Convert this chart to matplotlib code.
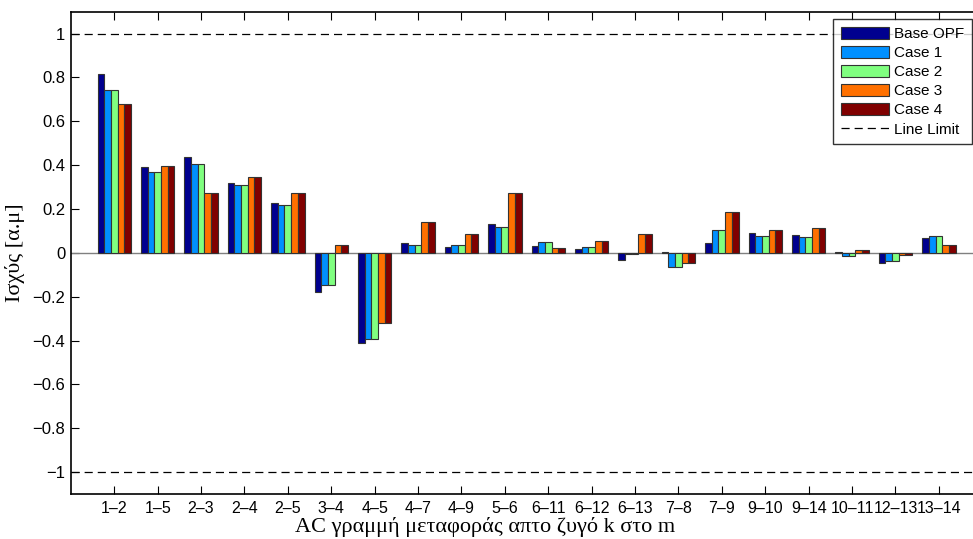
import numpy as np
import matplotlib
matplotlib.use('Agg')
import matplotlib.pyplot as plt
from matplotlib.patches import Patch
from matplotlib.lines import Line2D

plt.rcParams['font.family'] = ['Liberation Sans', 'DejaVu Sans']

lines = ['1–2', '1–5', '2–3', '2–4', '2–5', '3–4', '4–5', '4–7', '4–9', '5–6',
         '6–11', '6–12', '6–13', '7–8', '7–9', '9–10', '9–14', '10–11', '12–13', '13–14']
series = ['Base OPF', 'Case 1', 'Case 2', 'Case 3', 'Case 4']

base_opf = [0.818, 0.392, 0.436, 0.319, 0.227, -0.177, -0.410, 0.046, 0.026, 0.132,
            0.032, 0.017, -0.032, 0.003, 0.047, 0.091, 0.081, 0.002, -0.046, 0.068]
case1 = [0.745, 0.367, 0.403, 0.309, 0.218, -0.147, -0.395, 0.038, 0.035, 0.117,
         0.050, 0.025, -0.005, -0.064, 0.104, 0.075, 0.070, -0.015, -0.036, 0.078]
case2 = [0.745, 0.367, 0.403, 0.309, 0.218, -0.147, -0.395, 0.038, 0.035, 0.117,
         0.050, 0.025, -0.005, -0.064, 0.104, 0.075, 0.070, -0.015, -0.036, 0.078]
case3 = [0.678, 0.394, 0.274, 0.344, 0.274, 0.038, -0.319, 0.139, 0.087, 0.274,
         0.021, 0.052, 0.087, -0.048, 0.186, 0.104, 0.113, 0.012, -0.010, 0.035]
case4 = [0.678, 0.394, 0.274, 0.344, 0.274, 0.038, -0.319, 0.139, 0.087, 0.274,
         0.021, 0.052, 0.087, -0.048, 0.186, 0.104, 0.113, 0.012, -0.010, 0.035]
line_limit = [1, -1]

colors = ['#00008f', '#0090ff', '#80ff80', '#ff7000', '#800000']

fig = plt.figure(figsize=(9.73, 5.39), dpi=100)
ax = fig.add_axes([0.0728, 0.0835, 0.9367, 0.8948])

x = np.arange(1, len(lines) + 1)
w = 0.154
data = [base_opf, case1, case2, case3, case4]
for i, vals in enumerate(data):
    ax.bar(x + (i - 2) * w, vals, width=w, color=colors[i], edgecolor='#333333',
           linewidth=0.8, zorder=3)

ax.axhline(0, color='#808080', lw=1.0, zorder=2)
for lim in line_limit:
    ax.axhline(lim, color='black', lw=0.9, dashes=(6.5, 4.0), zorder=2)

ax.set_xlim(0, 21)
ax.set_ylim(-1.1, 1.1)
ax.set_xticks(x)
ax.set_xticklabels(lines, fontsize=11.5)
ax.set_yticks(np.round(np.arange(-1, 1.01, 0.2), 1))
ax.set_yticklabels(['−1', '−0.8', '−0.6', '−0.4', '−0.2', '0', '0.2', '0.4', '0.6', '0.8', '1'],
                   fontsize=12)
ax.tick_params(axis='x', direction='in', length=6, width=0.8, top=True, pad=5)
ax.tick_params(axis='y', direction='in', length=6, width=0.8, right=True, pad=4)
for s in ax.spines.values():
    s.set_linewidth(1.2)

ax.set_xlabel('AC γραμμή μεταφοράς απτο ζυγό k στο m', family='Liberation Serif', fontsize=16)
ax.xaxis.set_label_coords(0.4545, -0.048)
ax.set_ylabel('Ισχύς [α.μ]', family='Liberation Serif', fontsize=16)
ax.yaxis.set_label_coords(-0.05, 0.5)

handles = [Patch(facecolor=c, edgecolor='#333333', linewidth=0.8) for c in colors]
handles.append(Line2D([], [], color='black', lw=0.9, dashes=(6.5, 4.0)))
leg = fig.legend(handles, series + ['Line Limit'], loc='upper left',
                 bbox_to_anchor=(833 / 973, 1 - 19 / 539), bbox_transform=fig.transFigure,
                 fontsize=11, frameon=True, fancybox=False, borderaxespad=0,
                 handlelength=3.15, handleheight=0.85, handletextpad=0.35,
                 labelspacing=0.31, borderpad=0.5)
leg.get_frame().set_edgecolor('black')
leg.get_frame().set_linewidth(1.0)

fig.savefig('out.png', dpi=100)
